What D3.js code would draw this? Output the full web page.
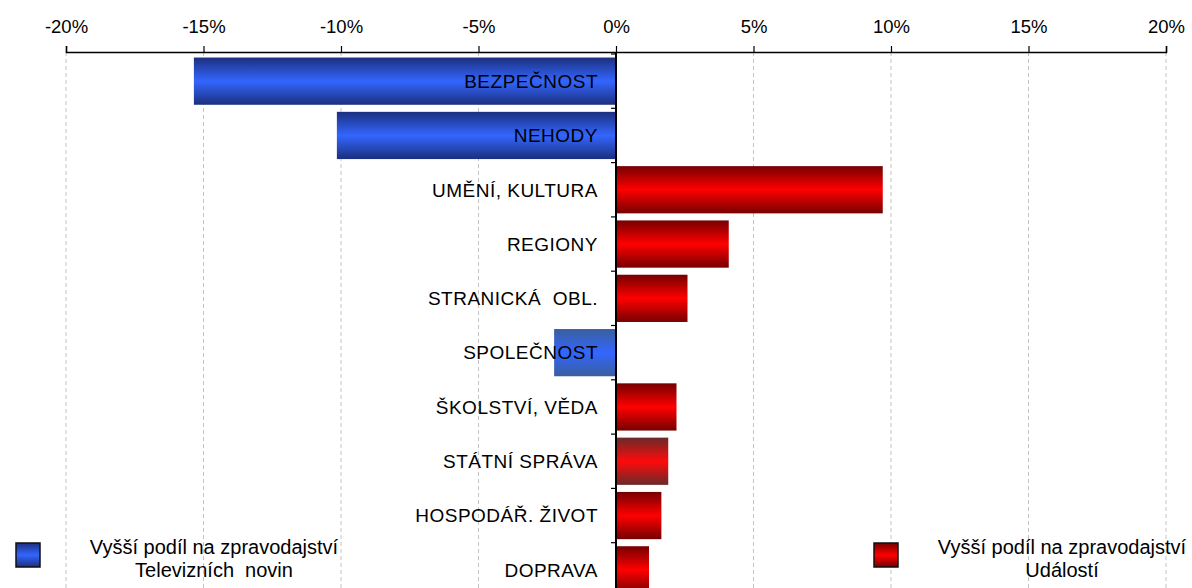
<!DOCTYPE html>
<html>
<head>
<meta charset="utf-8">
<script src="https://cdn.jsdelivr.net/npm/d3@7"></script>
<style>
  body { margin: 0; background: #fff; }
  svg text { font-family: "Liberation Sans", Arial, sans-serif; fill: #000; }
</style>
</head>
<body>
<svg id="chart" width="1192" height="588"></svg>
<script>
const categories = ["BEZPEČNOST", "NEHODY", "UMĚNÍ, KULTURA", "REGIONY", "STRANICKÁ  OBL.",
  "SPOLEČNOST", "ŠKOLSTVÍ, VĚDA", "STÁTNÍ SPRÁVA", "HOSPODÁŘ. ŽIVOT", "DOPRAVA"];
const values = [-15.35, -10.15, 9.7, 4.1, 2.6, -2.25, 2.2, 1.9, 1.65, 1.2];
const tickValues = [-20, -15, -10, -5, 0, 5, 10, 15, 20];
const legendLeft = ["Vyšší podíl na zpravodajství", "Televizních  novin"];
const legendRight = ["Vyšší podíl na zpravodajství", "Událostí"];

const svg = d3.select("#chart");
const axisY = 52;

const x = d3.scaleLinear().domain([-20, 20]).range([66, 1166]);
const y = d3.scaleBand().domain(categories).range([54, 597]).paddingInner(0.13).paddingOuter(0.065);

// gradients
const defs = svg.append("defs");
function grad(id, edge, mid) {
  const g = defs.append("linearGradient").attr("id", id)
    .attr("x1", 0).attr("y1", 0).attr("x2", 0).attr("y2", 1);
  g.append("stop").attr("offset", "0%").attr("stop-color", edge);
  g.append("stop").attr("offset", "50%").attr("stop-color", mid);
  g.append("stop").attr("offset", "100%").attr("stop-color", edge);
}
grad("blue", "#1c2f7e", "#3366ff");
grad("blueLight", "#3a5f9c", "#3366ff");
grad("red", "#760000", "#ff0000");
grad("redGray", "#6a2a2a", "#ff0a0a");

// gridlines
svg.append("g").selectAll("line").data(tickValues.filter(d => d !== 0)).join("line")
  .attr("x1", d => x(d)).attr("x2", d => x(d))
  .attr("y1", axisY).attr("y2", 588)
  .attr("stroke", "#c4c4c4").attr("stroke-dasharray", "4,3");

// top axis
const ax = svg.append("g").attr("transform", `translate(0,${axisY})`)
  .call(d3.axisTop(x).tickValues(tickValues).tickSize(6).tickPadding(13).tickFormat(d => d + "%"));
ax.select(".domain").attr("stroke", "#000").attr("stroke-width", 1.5);
ax.selectAll(".tick line").attr("stroke", "#000").attr("stroke-width", 1.2);
ax.selectAll(".tick text").style("font-size", "18.5px").style("font-family", "Liberation Sans, Arial, sans-serif");

// bars
const fills = categories.map((c, i) => {
  if (c === "SPOLEČNOST") return "url(#blueLight)";
  if (c === "STÁTNÍ SPRÁVA") return "url(#redGray)";
  return values[i] < 0 ? "url(#blue)" : "url(#red)";
});
svg.append("g").selectAll("rect").data(values).join("rect")
  .attr("x", d => x(Math.min(0, d)))
  .attr("y", (d, i) => y(categories[i]))
  .attr("width", d => Math.abs(x(d) - x(0)))
  .attr("height", y.bandwidth())
  .attr("fill", (d, i) => fills[i]);

// category ticks on the zero line
const step = y.step();
svg.append("g").selectAll("line").data(d3.range(categories.length + 1)).join("line")
  .attr("x1", x(0) - 5).attr("x2", x(0))
  .attr("y1", i => 54 + i * step).attr("y2", i => 54 + i * step)
  .attr("stroke", "#000").attr("stroke-width", 1.2);

// zero line
svg.append("line")
  .attr("x1", x(0)).attr("x2", x(0))
  .attr("y1", axisY).attr("y2", 588)
  .attr("stroke", "#000").attr("stroke-width", 2);

// category labels
svg.append("g").selectAll("text").data(categories).join("text")
  .attr("x", x(0) - 18)
  .attr("y", d => y(d) + y.bandwidth() / 2)
  .attr("dy", "0.36em")
  .attr("text-anchor", "end")
  .style("font-size", "19px")
  .style("letter-spacing", "0.5px")
  .style("white-space", "pre")
  .text(d => d);

// legends
function legend(sx, tx, fill, lines) {
  const g = svg.append("g");
  g.append("rect").attr("x", sx).attr("y", 543).attr("width", 24).attr("height", 24)
    .attr("fill", fill).attr("stroke", "#111").attr("stroke-width", 1.5);
  g.selectAll("text").data(lines).join("text")
    .attr("x", tx).attr("y", (d, i) => 547 + i * 23)
    .attr("dy", "0.36em")
    .attr("text-anchor", "middle")
    .style("font-size", "20px")
    .style("white-space", "pre")
    .text(d => d);
}
legend(16, 214, "url(#blue)", legendLeft);
legend(874, 1062, "url(#red)", legendRight);
</script>
</body>
</html>
